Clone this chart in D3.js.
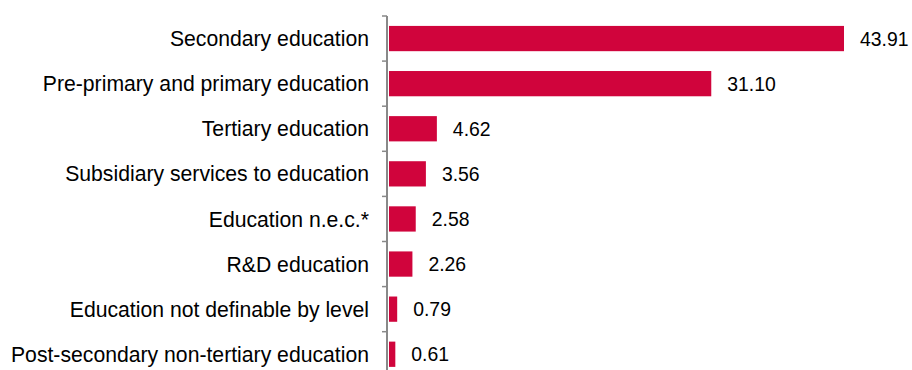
<!DOCTYPE html>
<html>
<head>
<meta charset="utf-8">
<script src="https://cdn.jsdelivr.net/npm/d3@7"></script>
<style>
  html, body { margin: 0; padding: 0; background: #fff; }
  svg { display: block; font-family: "Liberation Sans", Arial, sans-serif; }
</style>
</head>
<body>
<svg id="chart" width="912" height="370"></svg>
<script>
// Share of spending by education sub-sector
const categories = [
  "Secondary education",
  "Pre-primary and primary education",
  "Tertiary education",
  "Subsidiary services to education",
  "Education n.e.c.*",
  "R&D education",
  "Education not definable by level",
  "Post-secondary non-tertiary education"
];
const values = [43.91, 31.10, 4.62, 3.56, 2.58, 2.26, 0.79, 0.61];
const valueLabels = ["43.91", "31.10", "4.62", "3.56", "2.58", "2.26", "0.79", "0.61"];

const svg = d3.select("#chart");
const axisX = 387;
const plotTop = 16, step = 45.1;

const x = d3.scaleLinear().domain([0, 43.91]).range([axisX + 2, 844]);
const y = d3.scaleBand()
  .domain(categories)
  .range([plotTop, plotTop + step * categories.length])
  .paddingInner(0.44)
  .paddingOuter(0.22);

// bars
svg.append("g").selectAll("rect")
  .data(values)
  .join("rect")
  .attr("x", x(0))
  .attr("y", (d, i) => y(categories[i]))
  .attr("width", d => x(d) - x(0))
  .attr("height", y.bandwidth())
  .attr("fill", "#d0043c");

// value labels
svg.append("g").selectAll("text")
  .data(values)
  .join("text")
  .attr("x", d => x(d) + 16)
  .attr("y", (d, i) => y(categories[i]) + y.bandwidth() / 2)
  .attr("dy", "0.36em")
  .attr("font-size", 19.4)
  .attr("fill", "#000")
  .text((d, i) => valueLabels[i]);

// category axis: vertical line with ticks at band boundaries
const ax = svg.append("g");
ax.append("line")
  .attr("x1", axisX).attr("x2", axisX)
  .attr("y1", plotTop).attr("y2", plotTop + step * categories.length)
  .attr("stroke", "#898989").attr("stroke-width", 2);
ax.selectAll("line.tick")
  .data(d3.range(categories.length + 1))
  .join("line")
  .attr("class", "tick")
  .attr("x1", axisX - 5).attr("x2", axisX)
  .attr("y1", i => plotTop + i * step).attr("y2", i => plotTop + i * step)
  .attr("stroke", "#898989").attr("stroke-width", 1.5);

ax.selectAll("text")
  .data(categories)
  .join("text")
  .attr("x", axisX - 18)
  .attr("y", d => y(d) + y.bandwidth() / 2)
  .attr("dy", "0.36em")
  .attr("text-anchor", "end")
  .attr("font-size", 21.2)
  .attr("fill", "#000")
  .text(d => d);
</script>
</body>
</html>
